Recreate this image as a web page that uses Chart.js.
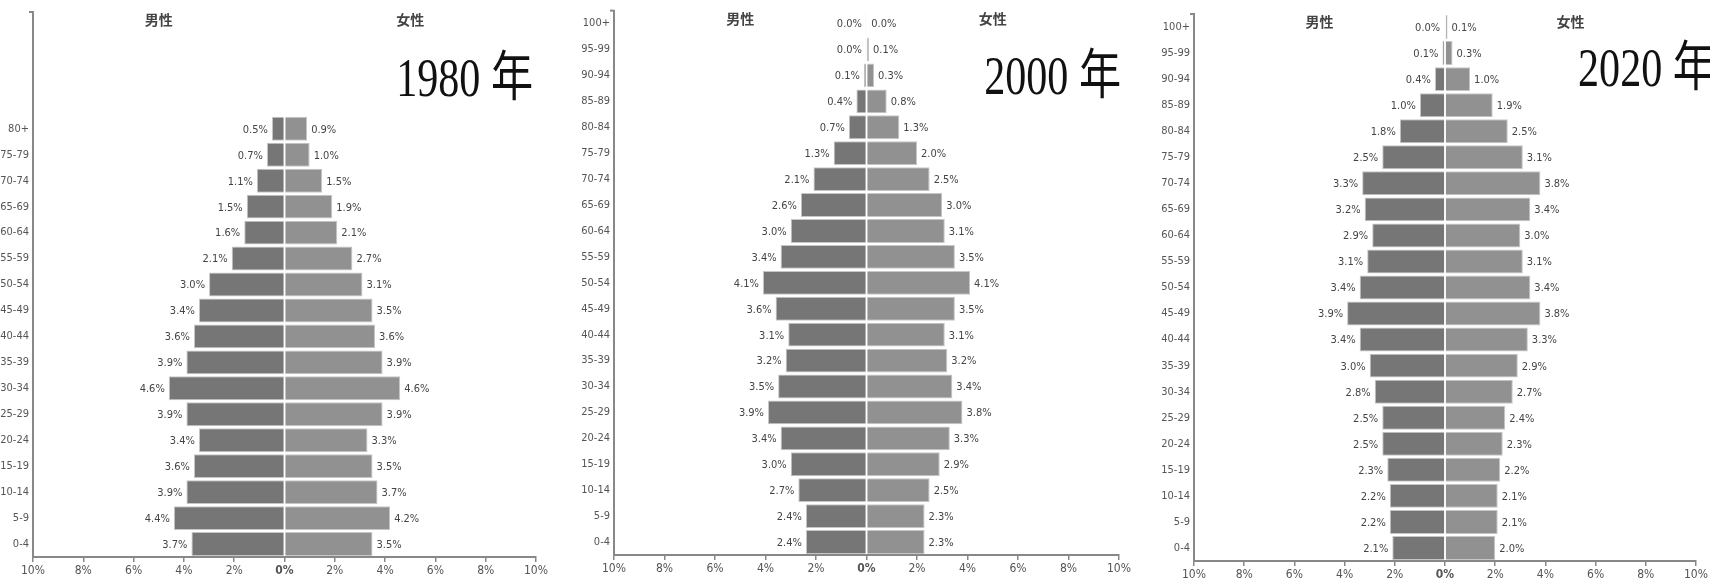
<!DOCTYPE html>
<html>
<head>
<meta charset="utf-8">
<script src="https://cdn.jsdelivr.net/npm/chart.js@4.4.0/dist/chart.umd.min.js"></script>
<style>
  body { margin: 0; background: #fff; width: 1729px; height: 582px; overflow: hidden; position: relative; }
  canvas { position: absolute; top: 0; }
</style>
</head>
<body>
<canvas id="c1"></canvas>
<canvas id="c2"></canvas>
<canvas id="c3"></canvas>
<script>
// 年齢階級
const ages = ["100+", "95-99", "90-94", "85-89", "80-84", "75-79", "70-74", "65-69", "60-64", "55-59",
  "50-54", "45-49", "40-44", "35-39", "30-34", "25-29", "20-24", "15-19", "10-14", "5-9", "0-4"];
const ages1980 = ["80+", "75-79", "70-74", "65-69", "60-64", "55-59", "50-54", "45-49", "40-44",
  "35-39", "30-34", "25-29", "20-24", "15-19", "10-14", "5-9", "0-4"];

// 1980
const male1980 = [0.5, 0.7, 1.1, 1.5, 1.6, 2.1, 3.0, 3.4, 3.6, 3.9, 4.6, 3.9, 3.4, 3.6, 3.9, 4.4, 3.7];
const female1980 = [0.9, 1.0, 1.5, 1.9, 2.1, 2.7, 3.1, 3.5, 3.6, 3.9, 4.6, 3.9, 3.3, 3.5, 3.7, 4.2, 3.5];

// 2000
const male2000 = [0.02, 0.02, 0.1, 0.4, 0.7, 1.3, 2.1, 2.6, 3.0, 3.4, 4.1, 3.6, 3.1, 3.2, 3.5, 3.9, 3.4, 3.0, 2.7, 2.4, 2.4];
const female2000 = [0.03, 0.1, 0.3, 0.8, 1.3, 2.0, 2.5, 3.0, 3.1, 3.5, 4.1, 3.5, 3.1, 3.2, 3.4, 3.8, 3.3, 2.9, 2.5, 2.3, 2.3];

// 2020
const male2020 = [0.03, 0.1, 0.4, 1.0, 1.8, 2.5, 3.3, 3.2, 2.9, 3.1, 3.4, 3.9, 3.4, 3.0, 2.8, 2.5, 2.5, 2.3, 2.2, 2.2, 2.1];
const female2020 = [0.1, 0.3, 1.0, 1.9, 2.5, 3.1, 3.8, 3.4, 3.0, 3.1, 3.4, 3.8, 3.3, 2.9, 2.7, 2.4, 2.3, 2.2, 2.1, 2.1, 2.0];

const xTicks = [-10, -8, -6, -4, -2, 0, 2, 4, 6, 8, 10];

const YW = 40;   // y軸の幅
const XH = 21;   // x軸の高さ
const PR = 10;   // 右の余白
const narrow = "'DejaVu Sans Condensed', 'Liberation Sans Narrow', 'DejaVu Sans', sans-serif";
const cjk = "'Noto Sans CJK JP', 'Noto Sans CJK SC', sans-serif";

const barLabels = {
  id: "barLabels",
  afterDatasetsDraw(chart) {
    const ctx = chart.ctx;
    ctx.save();
    ctx.font = "11px " + narrow;
    ctx.fillStyle = "#444";
    ctx.textBaseline = "middle";
    chart.data.datasets.forEach((ds, i) => {
      chart.getDatasetMeta(i).data.forEach((el, j) => {
        const v = ds.data[j];
        if (v === null || v === undefined) return;
        const txt = Math.abs(v).toFixed(1) + "%";
        if (v < 0) { ctx.textAlign = "right"; ctx.fillText(txt, el.x - 4, el.y + 1); }
        else { ctx.textAlign = "left"; ctx.fillText(txt, el.x + 4, el.y + 1); }
      });
    });
    ctx.restore();
  }
};

const headers = {
  id: "headers",
  afterDraw(chart, args, opts) {
    const ctx = chart.ctx;
    const x = chart.scales.x;
    const area = chart.chartArea;
    ctx.save();
    // y軸上端の小さな鉤
    ctx.strokeStyle = "#888";
    ctx.lineWidth = 2;
    ctx.beginPath();
    ctx.moveTo(area.left - 4, area.top);
    ctx.lineTo(area.left, area.top);
    ctx.stroke();

    ctx.font = "bold 14px " + cjk;
    ctx.fillStyle = "#444";
    ctx.textAlign = "center";
    ctx.textBaseline = "middle";
    ctx.fillText("男性", x.getPixelForValue(-5), area.top + 8);
    ctx.fillText("女性", x.getPixelForValue(5), area.top + 8);
    // 年
    const yx = area.left + opts.yearX * (area.right - area.left);
    ctx.translate(yx, opts.yearY);
    ctx.scale(0.78, 1);
    ctx.font = "54px 'Liberation Serif', 'DejaVu Serif', " + cjk;
    ctx.fillStyle = "#111";
    ctx.textAlign = "left";
    ctx.textBaseline = "alphabetic";
    ctx.fillText(opts.year, 0, 0);
    ctx.restore();
  }
};

function makeChart(id, p, labels, male, female) {
  const canvas = document.getElementById(id);
  canvas.width = p.right - p.left + YW + PR;
  canvas.height = 582;
  canvas.style.left = (p.left - YW) + "px";
  return new Chart(canvas, {
    type: "bar",
    data: {
      labels: labels,
      datasets: [
        { label: "男性", data: male.map(v => v === null ? null : -v), backgroundColor: "#767676",
          borderColor: "#c6c6c6", borderWidth: 1 },
        { label: "女性", data: female, backgroundColor: "#919191",
          borderColor: "#c6c6c6", borderWidth: 1 }
      ]
    },
    options: {
      indexAxis: "y",
      responsive: false,
      animation: false,
      barPercentage: 0.92,
      categoryPercentage: 1,
      layout: { padding: { top: p.top, bottom: 582 - p.bottom - XH, left: 0, right: PR } },
      plugins: {
        legend: { display: false },
        tooltip: { enabled: false },
        headers: { year: p.year, yearX: p.yearX, yearY: p.yearY }
      },
      scales: {
        x: {
          stacked: true, min: -10, max: 10,
          afterBuildTicks: s => { s.ticks = xTicks.map(v => ({ value: v })); },
          afterFit: s => { s.height = XH; },
          grid: { drawOnChartArea: false, drawTicks: true, tickLength: 5, color: "#888", lineWidth: 1.5 },
          border: { display: true, color: "#888", width: 2 },
          ticks: {
            padding: 2, color: "#555", maxRotation: 0, autoSkip: false,
            callback: v => Math.abs(v) + "%",
            font: c => ({ size: 12, family: narrow, weight: c.tick && c.tick.value === 0 ? "bold" : "normal" })
          }
        },
        y: {
          stacked: true,
          afterFit: s => { s.width = YW; },
          grid: { display: true, drawOnChartArea: false, drawTicks: false },
          border: { display: true, color: "#888", width: 2 },
          ticks: { padding: 4, color: "#555", font: { size: 11, family: narrow } }
        }
      }
    },
    plugins: [barLabels, headers]
  });
}

const pad4 = ["", "", "", ""];
makeChart("c1", { left: 33, right: 540, top: 12, bottom: 557, year: "1980 年", yearX: 0.722, yearY: 96 },
  pad4.concat(ages1980), [null, null, null, null].concat(male1980), [null, null, null, null].concat(female1980));
makeChart("c2", { left: 614, right: 1123, top: 10, bottom: 555, year: "2000 年", yearX: 0.733, yearY: 94 },
  ages, male2000, female2000);
makeChart("c3", { left: 1194, right: 1700, top: 14, bottom: 561, year: "2020 年", yearX: 0.765, yearY: 86 },
  ages, male2020, female2020);
</script>
</body>
</html>
